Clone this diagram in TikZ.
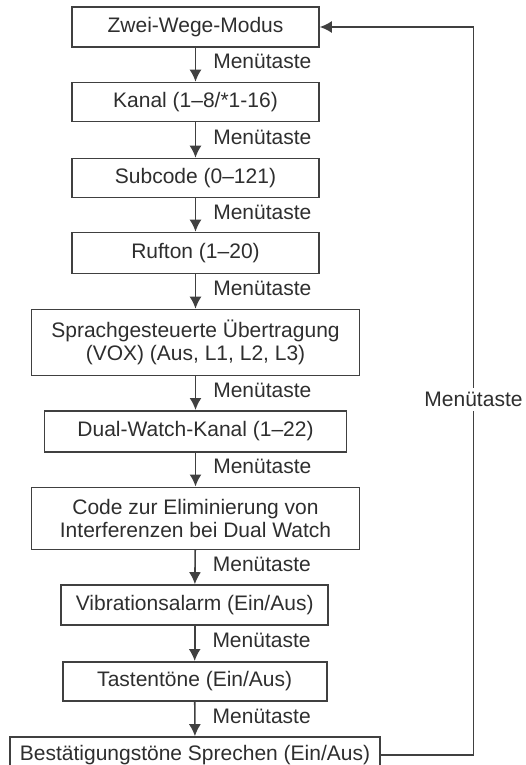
\documentclass[tikz,border=0pt]{standalone}
\usepackage{fontspec}
\setmainfont{Liberation Sans}
\usepackage{xcolor}
\usetikzlibrary{positioning, calc, arrows.meta}
\definecolor{linegray}{HTML}{404040}
\definecolor{textgray}{HTML}{2E2E2E}

\begin{document}
\begin{tikzpicture}[x=1pt,y=-1pt,
    box/.style={draw=linegray, line width=1.6pt, text=textgray, align=center,
      inner sep=0pt, font=\fontsize{21}{22.5}\selectfont},
    arr/.style={draw=linegray, line width=1.6pt, -{Latex[length=12pt,width=12pt]}},
    lbl/.style={text=textgray, inner sep=1pt, font=\fontsize{21}{22.5}\selectfont}]
      \useasboundingbox (0,0) rectangle (526,765);
      % Menuepunkte
      \node[box, minimum width=247pt, minimum height=40pt] (zwei) at (195.5,27) {Zwei-Wege-Modus};
      \node[box, minimum width=247pt, minimum height=39pt] (kanal) at (195.5,102) {Kanal (1--8/*1-16)};
      \node[box, minimum width=247pt, minimum height=39pt] (sub) at (195.5,178) {Subcode (0--121)};
      \node[box, minimum width=247pt, minimum height=41pt] (ruf) at (195.5,253) {Rufton (1--20)};
      \node[box, minimum width=328pt, minimum height=66pt] (vox) at (195.5,342.5) {Sprachgesteuerte Übertragung\\(VOX) (Aus, L1, L2, L3)};
      \node[box, minimum width=302pt, minimum height=41pt] (dual) at (195.5,431.3) {Dual-Watch-Kanal (1--22)};
      \node[box, minimum width=328pt, minimum height=62pt] (code) at (195.5,518.3) {Code zur Eliminierung von\\Interferenzen bei Dual Watch};
      \node[box, minimum width=267pt, minimum height=40pt] (vib) at (194.7,605) {Vibrationsalarm (Ein/Aus)};
      \node[box, minimum width=264pt, minimum height=39pt] (tast) at (194.7,681.3) {Tastentöne (Ein/Aus)};
      \node[box, minimum width=370pt, minimum height=36pt] (best) at (195,755) {Bestätigungstöne Sprechen (Ein/Aus)};
      % Menuetaste
      \draw[arr] (zwei) -- node[lbl, right=16pt, yshift=3pt]{Menütaste} (kanal);
      \draw[arr] (kanal) -- node[lbl, right=16pt, yshift=3pt]{Menütaste} (sub);
      \draw[arr] (sub) -- node[lbl, right=16pt, yshift=3pt]{Menütaste} (ruf);
      \draw[arr] (ruf) -- node[lbl, right=16pt, yshift=3pt]{Menütaste} (vox);
      \draw[arr] (vox) -- node[lbl, right=16pt, yshift=3pt]{Menütaste} (dual);
      \draw[arr] (dual) -- node[lbl, right=16pt, yshift=3pt]{Menütaste} (code);
      \draw[arr] (code) -- node[lbl, right=16pt, yshift=3pt]{Menütaste} (vib);
      \draw[arr] (vib) -- node[lbl, right=16pt, yshift=3pt]{Menütaste} (tast);
      \draw[arr] (tast) -- node[lbl, right=16pt, yshift=3pt]{Menütaste} (best);
      % zurueck
      \draw[arr] (best.east) -- ++(92.7,0) |- node[lbl, pos=0.244, fill=white, inner sep=4pt]{Menütaste} (zwei.east);
\end{tikzpicture}
\end{document}
